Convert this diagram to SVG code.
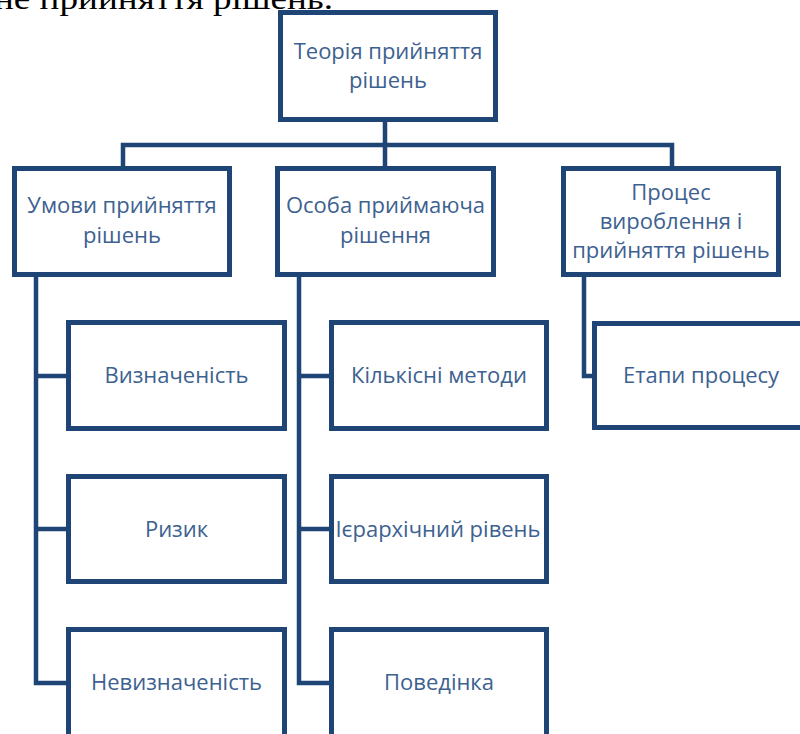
<svg xmlns="http://www.w3.org/2000/svg" width="800" height="734" viewBox="0 0 800 734">
<style>
.box{fill:#ffffff;stroke:#1f4577;stroke-width:5}
.conn{fill:none;stroke:#1f4577;stroke-width:4.5;stroke-linejoin:miter;stroke-linecap:butt}
.lbl{font-family:"Open Sans","Noto Sans","DejaVu Sans",sans-serif;font-size:22px;fill:#3d6190;text-anchor:middle}
.cap{font-family:"Liberation Serif","Times New Roman",serif;font-size:32px;fill:#000000}
</style>
<rect x="0" y="0" width="800" height="734" fill="#ffffff"/>
<text class="cap" x="-6" y="9" textLength="339" lengthAdjust="spacingAndGlyphs">не прийняття рішень.</text>
<g id="connectors">
<path class="conn" d="M385 122V166M123 166V145H672V166"/>
<path class="conn" d="M36 277V683H66M36 376H66M36 529H66"/>
<path class="conn" d="M299 277V683H329M299 376H329M299 529H329"/>
<path class="conn" d="M584 277V376H592"/>
</g>
<g id="n-root">
<rect class="box" x="280.5" y="12.5" width="215" height="107"/>
<text class="lbl" x="388" y="59">Теорія прийняття</text>
<text class="lbl" x="388" y="88">рішень</text>
</g>
<g id="n-conditions">
<rect class="box" x="14.5" y="168.5" width="215" height="106"/>
<text class="lbl" x="122" y="213">Умови прийняття</text>
<text class="lbl" x="122" y="243">рішень</text>
</g>
<g id="n-person">
<rect class="box" x="277.5" y="168.5" width="216" height="106"/>
<text class="lbl" x="385.5" y="213">Особа приймаюча</text>
<text class="lbl" x="385.5" y="243">рішення</text>
</g>
<g id="n-process">
<rect class="box" x="563.5" y="168.5" width="215" height="106"/>
<text class="lbl" x="671" y="200">Процес</text>
<text class="lbl" x="671" y="229">вироблення і</text>
<text class="lbl" x="671" y="258">прийняття рішень</text>
</g>
<g id="n-certainty">
<rect class="box" x="68.5" y="322.5" width="216" height="106"/>
<text class="lbl" x="176.5" y="383">Визначеність</text>
</g>
<g id="n-risk">
<rect class="box" x="68.5" y="476.5" width="216" height="105"/>
<text class="lbl" x="176.5" y="537">Ризик</text>
</g>
<g id="n-uncertainty">
<rect class="box" x="68.5" y="629.5" width="216" height="120"/>
<text class="lbl" x="176.5" y="690">Невизначеність</text>
</g>
<g id="n-quant">
<rect class="box" x="331.5" y="322.5" width="215" height="106"/>
<text class="lbl" x="439" y="383">Кількісні методи</text>
</g>
<g id="n-hier">
<rect class="box" x="331.5" y="476.5" width="215" height="105"/>
<text class="lbl" x="438" y="537">Ієрархічний рівень</text>
</g>
<g id="n-behav">
<rect class="box" x="331.5" y="629.5" width="215" height="120"/>
<text class="lbl" x="439" y="690">Поведінка</text>
</g>
<g id="n-stages">
<rect class="box" x="594.5" y="323.5" width="215" height="104"/>
<text class="lbl" x="701" y="383">Етапи процесу</text>
</g>
</svg>
